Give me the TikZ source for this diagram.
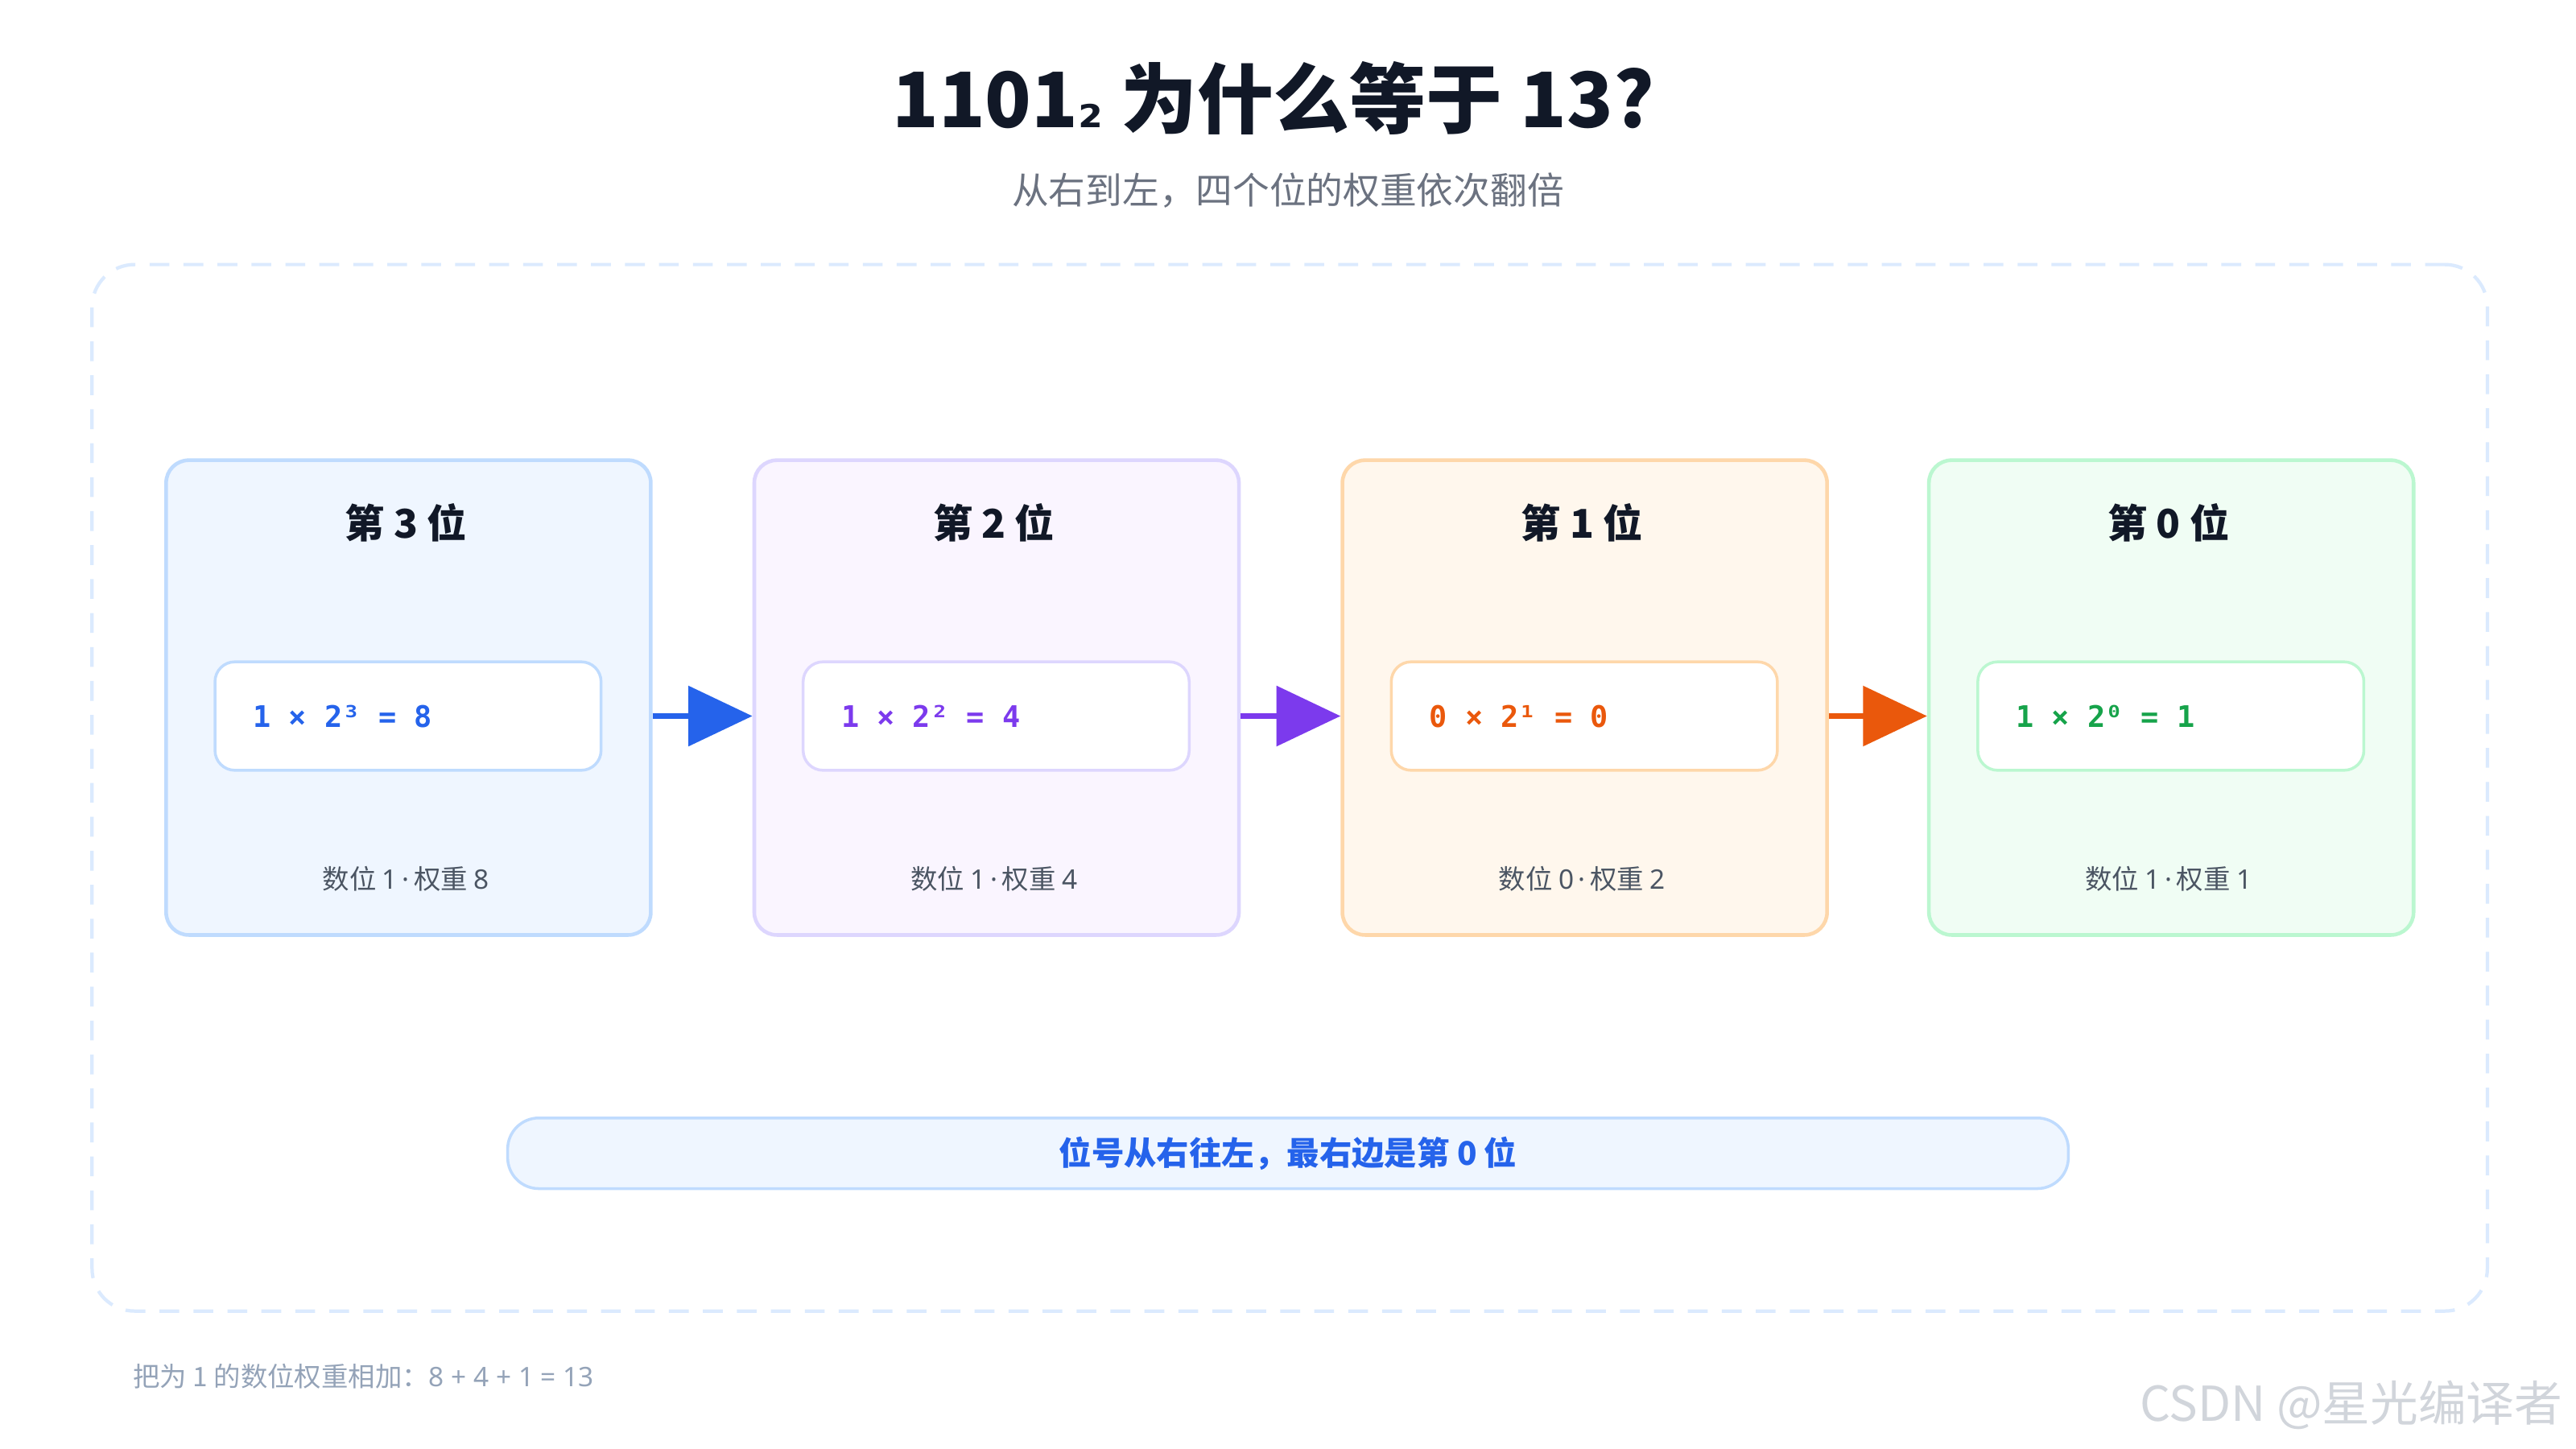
\documentclass[tikz,border=0pt]{standalone}
\usepackage{fontspec}
\setmainfont{Noto Sans CJK SC}
\newfontfamily\codefont{DejaVu Sans Mono}
\newfontfamily\latfont{Noto Sans}
\newfontfamily\djv{DejaVu Sans}
\usetikzlibrary{arrows.meta,positioning}
\def\u{0.020408cm}
\def\md{{\latfont\,·\,}}
\definecolor{tdark}{HTML}{111827}
\definecolor{tgray}{HTML}{6B7280}
\definecolor{tgrayb}{HTML}{4B5563}
\definecolor{tfoot}{HTML}{94A3B8}
\definecolor{dashc}{HTML}{DBEAFE}
\definecolor{bF}{HTML}{EFF6FF}\definecolor{bB}{HTML}{BFDBFE}\definecolor{bT}{HTML}{2563EB}
\definecolor{pF}{HTML}{FAF5FF}\definecolor{pB}{HTML}{DDD6FE}\definecolor{pT}{HTML}{7C3AED}
\definecolor{oF}{HTML}{FFF7ED}\definecolor{oB}{HTML}{FED7AA}\definecolor{oT}{HTML}{EA580C}
\definecolor{gF}{HTML}{F0FDF4}\definecolor{gB}{HTML}{BBF7D0}\definecolor{gT}{HTML}{16A34A}
\definecolor{wm}{HTML}{D1D5DB}
\tikzset{
 card/.style={draw=#1, line width=1.3pt, rounded corners=8pt, minimum width=295*\u, minimum height=289*\u, anchor=north west},
 inner/.style={draw=#1, fill=white, line width=1pt, rounded corners=7pt, minimum width=235*\u, minimum height=66*\u, anchor=north west},
 ctitle/.style={font=\fontsize{14}{16}\selectfont\bfseries, text=tdark},
 code/.style={font=\codefont\fontsize{10.5}{12}\selectfont\bfseries, text=#1, anchor=west},
 note/.style={font=\fontsize{9.5}{11}\selectfont, text=tgrayb},
 arr/.style={draw=#1, line width=2.2pt, -{Triangle[length=39*\u, width=36*\u, fill=#1]}},
}
\begin{document}
\begin{tikzpicture}[x=\u,y=-\u]
\useasboundingbox[fill=white] (0,0) rectangle (1568,882);
\node[font=\fontsize{27}{32}\selectfont\bfseries, text=tdark] (title) at (775,60) {1101{\djv\fontsize{20}{20}\selectfont ₂} 为什么等于 13?};
\node[font=\fontsize{13}{15}\selectfont, text=tgray] (sub) at (784,116) {从右到左，四个位的权重依次翻倍};
\node[draw=dashc, line width=1.2pt, dash pattern=on 7pt off 5pt, rounded corners=15pt, minimum width=1458*\u, minimum height=637*\u, anchor=north west] (frame) at (55,160) {};
\foreach \i/\x/\c/\t/\code/\a/\w in {1/100/b/第 3 位/1 × 2³ = 8/1/8, 2/458/p/第 2 位/1 × 2² = 4/1/4, 3/816/o/第 1 位/0 × 2¹ = 0/0/2, 4/1173/g/第 0 位/1 × 2⁰ = 1/1/1}{
 \node[card=\c B, fill=\c F] (b\i) at (\x,279) {};
 \node[ctitle] (t\i) at (\x+147,318) {\t};
 \node[inner=\c B] (i\i) at (\x+30,402) {};
 \node[code=\c T] (c\i) at (\x+48,436) {\code};
 \node[note] (n\i) at (\x+147,535) {数位 {\latfont\a}\md 权重 {\latfont\w}};
}
\draw[arr=bT] (b1.east |- i1) -- (b2.west |- i1);
\draw[arr=pT] (b2.east |- i2) -- (b3.west |- i2);
\draw[arr=oT] (b3.east |- i3) -- (b4.west |- i3);
\node[draw=bB, fill=bF, line width=1pt, rounded corners=11pt, minimum width=950*\u, minimum height=43*\u, font=\fontsize{11.5}{13}\selectfont\bfseries, text=bT] (bar) at (784,702) {位号从右往左，最右边是第 0 位};
\node[anchor=west, font=\fontsize{9.5}{11}\selectfont, text=tfoot] (foot) at (75,838) {把为 1 的数位权重相加：{\latfont 8 + 4 + 1 = 13}};
\node[anchor=east, font=\fontsize{17}{19}\selectfont, text=wm] (wm) at (1566,855) {CSDN @星光编译者};
\end{tikzpicture}
\end{document}
